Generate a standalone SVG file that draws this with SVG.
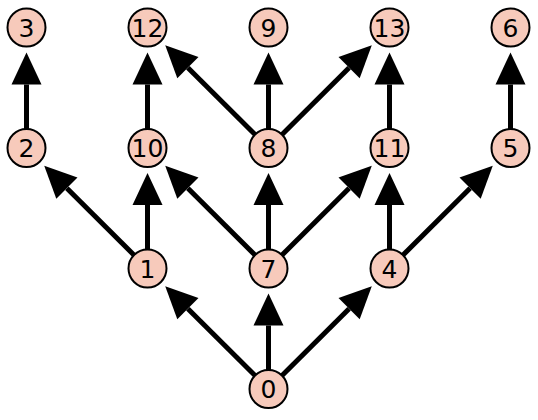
<svg xmlns="http://www.w3.org/2000/svg" width="538" height="420" viewBox="0 0 538 420">
<style>
.e{stroke:#000;stroke-width:5;fill:none;marker-end:url(#ah)}
.n circle{fill:#f7cabb;stroke:#000;stroke-width:2}
.n text{font-family:"DejaVu Sans",sans-serif;font-size:25px;text-anchor:middle;fill:#000}
</style>
<defs>
<marker id="ah" markerUnits="userSpaceOnUse" viewBox="0 -15 32 30" refX="0" refY="0" markerWidth="32" markerHeight="30" orient="auto" overflow="visible">
<path d="M0,-15 L32,0 L0,15 Z" fill="#000"/>
</marker>
</defs>
<rect width="538" height="420" fill="#fff"/>
<g id="edges">
<line class="e" x1="268.5" y1="389" x2="187.89" y2="308.72"/>
<line class="e" x1="268.5" y1="389" x2="268.5" y2="325.5"/>
<line class="e" x1="268.5" y1="389" x2="349.11" y2="308.72"/>
<line class="e" x1="147.5" y1="268.5" x2="66.89" y2="188.22"/>
<line class="e" x1="147.5" y1="268.5" x2="147.5" y2="205"/>
<line class="e" x1="268.5" y1="268.5" x2="187.89" y2="188.22"/>
<line class="e" x1="268.5" y1="268.5" x2="268.5" y2="205"/>
<line class="e" x1="268.5" y1="268.5" x2="349.11" y2="188.22"/>
<line class="e" x1="389.5" y1="268.5" x2="389.5" y2="205"/>
<line class="e" x1="389.5" y1="268.5" x2="470.11" y2="188.22"/>
<line class="e" x1="26.5" y1="148" x2="26.5" y2="84.5"/>
<line class="e" x1="147.5" y1="148" x2="147.5" y2="84.5"/>
<line class="e" x1="268.5" y1="148" x2="187.89" y2="67.72"/>
<line class="e" x1="268.5" y1="148" x2="268.5" y2="84.5"/>
<line class="e" x1="268.5" y1="148" x2="349.11" y2="67.72"/>
<line class="e" x1="389.5" y1="148" x2="389.5" y2="84.5"/>
<line class="e" x1="510.5" y1="148" x2="510.5" y2="84.5"/>
</g>
<g id="n3" class="n"><circle cx="26.5" cy="27.5" r="19"/><text x="26.5" y="36.5">3</text></g>
<g id="n12" class="n"><circle cx="147.5" cy="27.5" r="19"/><text x="147.5" y="36.5">12</text></g>
<g id="n9" class="n"><circle cx="268.5" cy="27.5" r="19"/><text x="268.5" y="36.5">9</text></g>
<g id="n13" class="n"><circle cx="389.5" cy="27.5" r="19"/><text x="389.5" y="36.5">13</text></g>
<g id="n6" class="n"><circle cx="510.5" cy="27.5" r="19"/><text x="510.5" y="36.5">6</text></g>
<g id="n2" class="n"><circle cx="26.5" cy="148" r="19"/><text x="26.5" y="157">2</text></g>
<g id="n10" class="n"><circle cx="147.5" cy="148" r="19"/><text x="147.5" y="157">10</text></g>
<g id="n8" class="n"><circle cx="268.5" cy="148" r="19"/><text x="268.5" y="157">8</text></g>
<g id="n11" class="n"><circle cx="389.5" cy="148" r="19"/><text x="389.5" y="157">11</text></g>
<g id="n5" class="n"><circle cx="510.5" cy="148" r="19"/><text x="510.5" y="157">5</text></g>
<g id="n1" class="n"><circle cx="147.5" cy="268.5" r="19"/><text x="147.5" y="277.5">1</text></g>
<g id="n7" class="n"><circle cx="268.5" cy="268.5" r="19"/><text x="268.5" y="277.5">7</text></g>
<g id="n4" class="n"><circle cx="389.5" cy="268.5" r="19"/><text x="389.5" y="277.5">4</text></g>
<g id="n0" class="n"><circle cx="268.5" cy="389" r="19"/><text x="268.5" y="398">0</text></g>
</svg>
